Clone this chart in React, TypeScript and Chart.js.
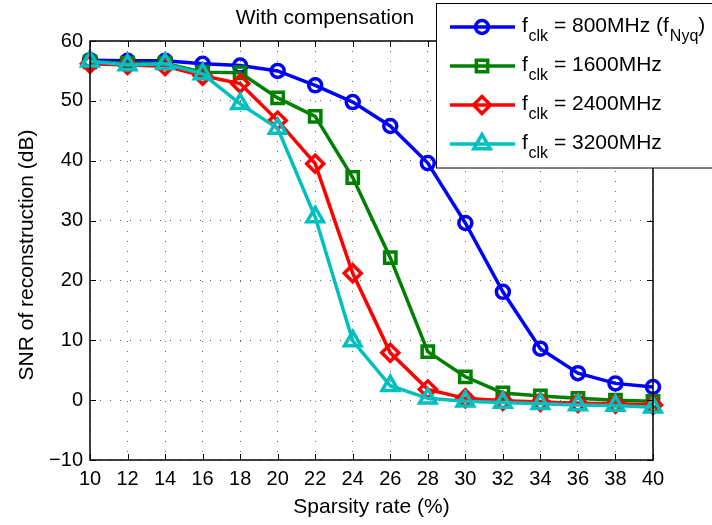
import { useEffect, useRef } from "react";
import { Chart, registerables } from "chart.js";

Chart.register(...registerables);

// Sparsity rate (%) on the horizontal axis
const sparsity = [10, 12, 14, 16, 18, 20, 22, 24, 26, 28, 30, 32, 34, 36, 38, 40];

// SNR of reconstruction (dB) per clock frequency
const snr800 = [56.8, 56.7, 56.7, 56.2, 55.9, 55.0, 52.6, 49.8, 45.8, 39.6, 29.6, 18.1, 8.6, 4.5, 2.8, 2.2];
const snr1600 = [56.5, 56.3, 56.3, 54.8, 54.7, 50.5, 47.4, 37.2, 23.8, 8.1, 3.9, 1.2, 0.7, 0.3, 0.0, -0.2];
const snr2400 = [56.2, 56.0, 55.8, 54.2, 52.9, 46.7, 39.5, 21.2, 7.9, 1.8, 0.3, -0.1, -0.3, -0.5, -0.6, -0.8];
const snr3200 = [56.6, 56.0, 56.2, 54.5, 49.5, 45.4, 30.6, 9.9, 2.4, 0.3, -0.2, -0.4, -0.6, -0.8, -0.9, -1.2];

// Axis ticks
const xTicks = [10, 12, 14, 16, 18, 20, 22, 24, 26, 28, 30, 32, 34, 36, 38, 40];
const yTicks = [-10, 0, 10, 20, 30, 40, 50, 60];

// Legend entries: "f" + "clk" subscript + rest, optional second subscript and tail
const legendRest = [" = 800MHz (f", " = 1600MHz", " = 2400MHz", " = 3200MHz"];
const legendSub2 = ["Nyq", "", "", ""];
const legendTail = [")", "", "", ""];

const colors = ["#0000ff", "#008000", "#ff0000", "#00bfbf"];
const markers = ["circle", "rect", "rectRot", "triangle"] as const;
const markerRadius = [6.5, 8, 8.5, 9.5];
const series = [snr800, snr1600, snr2400, snr3200];

const LINE_W = 3.5;
const FONT = '"Liberation Sans", Arial, Helvetica, sans-serif';

function drawMarker(ctx: CanvasRenderingContext2D, style: string, x: number, y: number, r: number) {
  ctx.beginPath();
  if (style === "circle") {
    ctx.arc(x, y, r, 0, Math.PI * 2);
  } else if (style === "rect") {
    const s = r * Math.SQRT1_2;
    ctx.rect(x - s, y - s, 2 * s, 2 * s);
  } else if (style === "rectRot") {
    ctx.moveTo(x, y - r);
    ctx.lineTo(x + r, y);
    ctx.lineTo(x, y + r);
    ctx.lineTo(x - r, y);
    ctx.closePath();
  } else {
    let a = 0;
    ctx.moveTo(x + Math.sin(a) * r, y - Math.cos(a) * r);
    a += (2 * Math.PI) / 3;
    ctx.lineTo(x + Math.sin(a) * r, y - Math.cos(a) * r);
    a += (2 * Math.PI) / 3;
    ctx.lineTo(x + Math.sin(a) * r, y - Math.cos(a) * r);
    ctx.closePath();
  }
  ctx.stroke();
}

const matlabFrame = {
  id: "matlabFrame",
  afterDatasetsDraw(chart: any) {
    const { ctx, chartArea: a, scales } = chart;
    ctx.save();
    ctx.strokeStyle = "#000";
    ctx.lineWidth = 1.5;
    ctx.strokeRect(a.left, a.top, a.right - a.left, a.bottom - a.top);
    ctx.lineWidth = 1;
    ctx.beginPath();
    xTicks.forEach((v) => {
      const px = Math.round(scales.x.getPixelForValue(v)) + 0.5;
      ctx.moveTo(px, a.bottom);
      ctx.lineTo(px, a.bottom - 6);
      ctx.moveTo(px, a.top);
      ctx.lineTo(px, a.top + 6);
    });
    yTicks.forEach((v) => {
      const py = Math.round(scales.y.getPixelForValue(v)) + 0.5;
      ctx.moveTo(a.left, py);
      ctx.lineTo(a.left + 6, py);
      ctx.moveTo(a.right, py);
      ctx.lineTo(a.right - 6, py);
    });
    ctx.stroke();
    ctx.restore();
  },
  afterDraw(chart: any) {
    const { ctx, chartArea: a } = chart;
    ctx.save();
    ctx.fillStyle = "#000";
    ctx.font = `21px ${FONT}`;
    ctx.textAlign = "center";
    ctx.textBaseline = "alphabetic";
    ctx.fillText("With compensation", 325, 24);
    ctx.fillText("Sparsity rate (%)", (a.left + a.right) / 2, 513);
    ctx.save();
    ctx.translate(33, 255);
    ctx.rotate(-Math.PI / 2);
    ctx.fillText("SNR of reconstruction (dB)", 0, 0);
    ctx.restore();

    // Legend box
    const bx = 436.5, by = 3.5, bw = 300, bh = 164.5;
    ctx.fillStyle = "#fff";
    ctx.fillRect(bx, by, bw, bh);
    ctx.strokeStyle = "#000";
    ctx.lineWidth = 1;
    ctx.strokeRect(bx, by, bw, bh);

    for (let i = 0; i < 4; i++) {
      const ry = 27 + i * 39;
      ctx.strokeStyle = colors[i];
      ctx.lineWidth = LINE_W;
      ctx.beginPath();
      ctx.moveTo(450, ry);
      ctx.lineTo(515, ry);
      ctx.stroke();
      drawMarker(ctx, markers[i], 482, ry, markerRadius[i]);

      ctx.fillStyle = "#000";
      ctx.textAlign = "left";
      let x = 522;
      ctx.font = `21px ${FONT}`;
      ctx.fillText("f", x, ry + 5);
      ctx.font = `16px ${FONT}`;
      ctx.fillText("clk", 528.5, ry + 13.5);
      x = 528.5 + ctx.measureText("clk").width;
      ctx.font = `21px ${FONT}`;
      ctx.fillText(legendRest[i], x, ry + 5);
      x += ctx.measureText(legendRest[i]).width;
      if (legendSub2[i]) {
        ctx.font = `16px ${FONT}`;
        ctx.fillText(legendSub2[i], x + 1, ry + 13.5);
        x += 1 + ctx.measureText(legendSub2[i]).width;
        ctx.font = `21px ${FONT}`;
        ctx.fillText(legendTail[i], x, ry + 5);
      }
    }
    ctx.restore();
  },
};

export default function App() {
  const canvasRef = useRef<HTMLCanvasElement | null>(null);

  useEffect(() => {
    const canvas = canvasRef.current;
    if (!canvas) return;
    const chart = new Chart(canvas, {
      type: "line",
      data: {
        datasets: series.map((vals, i) => ({
          label: `f_clk ${i}`,
          data: sparsity.map((x, j) => ({ x, y: vals[j] })),
          borderColor: colors[i],
          backgroundColor: "transparent",
          borderWidth: LINE_W,
          pointStyle: markers[i],
          pointRadius: markerRadius[i],
          pointBorderWidth: LINE_W,
          pointBorderColor: colors[i],
          pointBackgroundColor: "transparent",
          tension: 0,
          clip: false as any,
          order: 4 - i,
        })),
      },
      options: {
        animation: false,
        responsive: false,
        devicePixelRatio: 1,
        layout: { padding: { top: 41, right: 59, left: 0, bottom: 0 } },
        plugins: {
          legend: { display: false },
          title: { display: false },
          tooltip: { enabled: false },
        },
        scales: {
          x: {
            type: "linear",
            min: 10,
            max: 40,
            afterBuildTicks: (scale: any) => {
              scale.ticks = xTicks.map((value) => ({ value }));
            },
            afterFit: (scale: any) => {
              scale.height = 65;
              scale.paddingLeft = 0;
              scale.paddingRight = 0;
            },
            ticks: {
              color: "#000",
              font: { family: FONT, size: 20 },
              padding: 7,
              maxRotation: 0,
              autoSkip: false,
            },
            grid: {
              color: "rgba(0,0,0,0.6)",
              lineWidth: 1,
              drawTicks: false,
            },
            border: { display: false, dash: [1, 9] },
          },
          y: {
            type: "linear",
            min: -10,
            max: 60,
            afterBuildTicks: (scale: any) => {
              scale.ticks = yTicks.map((value) => ({ value }));
            },
            afterFit: (scale: any) => {
              scale.width = 90;
              scale.paddingTop = 0;
              scale.paddingBottom = 0;
            },
            ticks: {
              color: "#000",
              font: { family: FONT, size: 20 },
              padding: 7,
              autoSkip: false,
              callback: (v: any) => (Number(v) < 0 ? "\u2212" + Math.abs(Number(v)) : String(v)),
            },
            grid: {
              color: "rgba(0,0,0,0.6)",
              lineWidth: 1,
              drawTicks: false,
            },
            border: { display: false, dash: [1, 9] },
          },
        },
      },
      plugins: [matlabFrame],
    });
    return () => chart.destroy();
  }, []);

  return (
    <div style={{ position: "absolute", left: 0, top: 0, width: 712, height: 525, background: "#fff" }}>
      <canvas ref={canvasRef} width={712} height={525} style={{ display: "block" }} />
    </div>
  );
}
